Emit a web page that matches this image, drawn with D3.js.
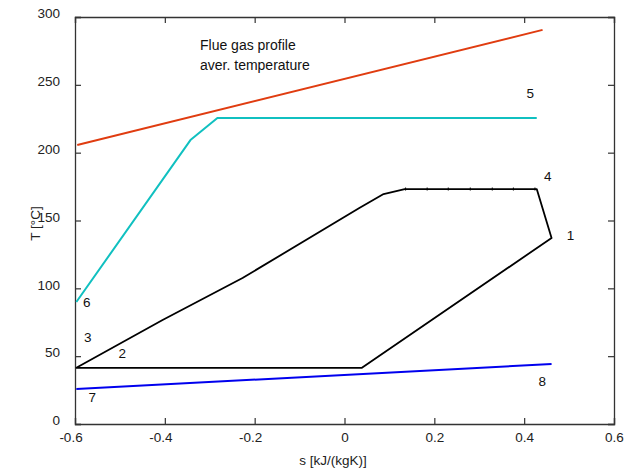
<!DOCTYPE html>
<html>
<head>
<meta charset="utf-8">
<script src="https://cdn.jsdelivr.net/npm/d3@7"></script>
<style>
  body { margin: 0; background: #fff; }
  svg text { font-family: "Liberation Sans", Arial, sans-serif; }
</style>
</head>
<body>
<div id="chart"></div>
<script>
// ticks
var sTicks = [-0.6, -0.4, -0.2, 0, 0.2, 0.4, 0.6];
var tTicks = [0, 50, 100, 150, 200, 250, 300];

// flue gas profile (red)
var flueS = [-0.595, 0.441];
var flueT = [205.6, 290.5];

// average temperature (cyan)
var avgS = [-0.597, -0.343, -0.283, 0.428];
var avgT = [89.9, 209.3, 225.5, 225.5];

// working fluid cycle (black), 2 -> 4 -> 1 -> back to 2
var cycleS = [-0.598, -0.405, -0.227, 0.033, 0.087, 0.134, 0.428, 0.461, 0.038, -0.598];
var cycleT = [41.3, 76.7, 107.6, 159.2, 169.5, 173.2, 173.2, 137.1, 41.3, 41.3];

// small markers on the evaporation line
var markS = [0.136, 0.184, 0.231, 0.280, 0.329, 0.376, 0.424];
var markT = [173.2, 173.2, 173.2, 173.2, 173.2, 173.2, 173.2];

// cooling water (blue)
var coolS = [-0.597, 0.461];
var coolT = [25.8, 44.2];

// state point labels
var ptNames = ['1', '2', '3', '4', '5', '6', '7', '8'];
var ptS = [0.495, -0.503, -0.580, 0.444, 0.405, -0.582, -0.570, 0.432];
var ptT = [135.7, 49, 60.5, 179, 240.5, 86.5, 16.2, 28];

var legendLines = ['Flue gas profile', 'aver. temperature'];

var W = 629, H = 469;
var m = {left: 75, right: 15, top: 17, bottom: 45};

var svg = d3.select('#chart').append('svg')
  .attr('width', W)
  .attr('height', H);

var x = d3.scaleLinear().domain([-0.6, 0.6]).range([m.left, W - m.right]);
var y = d3.scaleLinear().domain([0, 300]).range([H - m.bottom, m.top]);

var axisCol = '#333';
var fs = '13.5px';
var fmt = function (d) { return d === 0 ? '0' : String(d); };

// bottom + top axes
var gB = svg.append('g').attr('transform', 'translate(0,' + y(0) + ')')
  .call(d3.axisBottom(x).tickValues(sTicks).tickSize(-6).tickPadding(8).tickFormat(fmt));
var gT = svg.append('g').attr('transform', 'translate(0,' + y(300) + ')')
  .call(d3.axisTop(x).tickValues(sTicks).tickSize(-6).tickFormat(''));
// left + right axes
var gL = svg.append('g').attr('transform', 'translate(' + x(-0.6) + ',0)')
  .call(d3.axisLeft(y).tickValues(tTicks).tickSize(-6).tickPadding(15).tickFormat(fmt));
var gR = svg.append('g').attr('transform', 'translate(' + x(0.6) + ',0)')
  .call(d3.axisRight(y).tickValues(tTicks).tickSize(-6).tickFormat(''));

[gB, gT, gL, gR].forEach(function (g) {
  g.select('.domain').attr('stroke', axisCol).attr('stroke-width', 1.3);
  g.selectAll('.tick line').attr('stroke', axisCol).attr('stroke-width', 1.2);
  g.selectAll('.tick text').attr('fill', '#222').style('font-size', fs)
    .style('font-family', '"Liberation Sans", Arial, sans-serif');
});
// y labels sit a bit above their tick, negative s labels a bit left
gL.selectAll('.tick text').attr('dy', '0.06em');
gB.selectAll('.tick text').attr('dx', function (d) { return d < 0 ? -4.5 : 0; });

// axis titles
svg.append('text')
  .attr('x', (x(-0.6) + x(0.6)) / 2 - 11.5)
  .attr('y', H - 4)
  .attr('text-anchor', 'middle')
  .style('font-size', fs).attr('fill', '#222')
  .text('s [kJ/(kgK)]');
svg.append('text')
  .attr('transform', 'translate(40,' + (y(150) + 3) + ') rotate(-90)')
  .attr('text-anchor', 'middle')
  .style('font-size', fs).attr('fill', '#222')
  .text('T [°C]');

var line = d3.line()
  .x(function (d) { return x(d[0]); })
  .y(function (d) { return y(d[1]); });

function drawSeries(sv, tv, col, w) {
  svg.append('path')
    .datum(d3.zip(sv, tv))
    .attr('d', line)
    .attr('fill', 'none')
    .attr('stroke', col)
    .attr('stroke-width', w)
    .attr('stroke-linejoin', 'round');
}

drawSeries(flueS, flueT, '#e03c10', 2);
drawSeries(avgS, avgT, '#10c0c0', 2);
drawSeries(cycleS, cycleT, '#000', 1.8);
drawSeries(coolS, coolT, '#0000ee', 2);

// tiny markers
svg.selectAll('.mk')
  .data(d3.zip(markS, markT))
  .enter().append('line')
  .attr('x1', function (d) { return x(d[0]); })
  .attr('x2', function (d) { return x(d[0]); })
  .attr('y1', function (d) { return y(d[1]) - 1.5; })
  .attr('y2', function (d) { return y(d[1]) + 1.5; })
  .attr('stroke', '#000').attr('stroke-width', 1);

// point labels
svg.selectAll('.pt')
  .data(d3.zip(ptNames, ptS, ptT))
  .enter().append('text')
  .attr('x', function (d) { return x(d[1]); })
  .attr('y', function (d) { return y(d[2]); })
  .style('font-size', fs).attr('fill', '#111')
  .text(function (d) { return d[0]; });

// legend text
svg.selectAll('.lg')
  .data(legendLines)
  .enter().append('text')
  .attr('x', 200)
  .attr('y', function (d, i) { return 49.5 + i * 20.5; })
  .style('font-size', '14px').attr('fill', '#111')
  .text(function (d) { return d; });
</script>
</body>
</html>
